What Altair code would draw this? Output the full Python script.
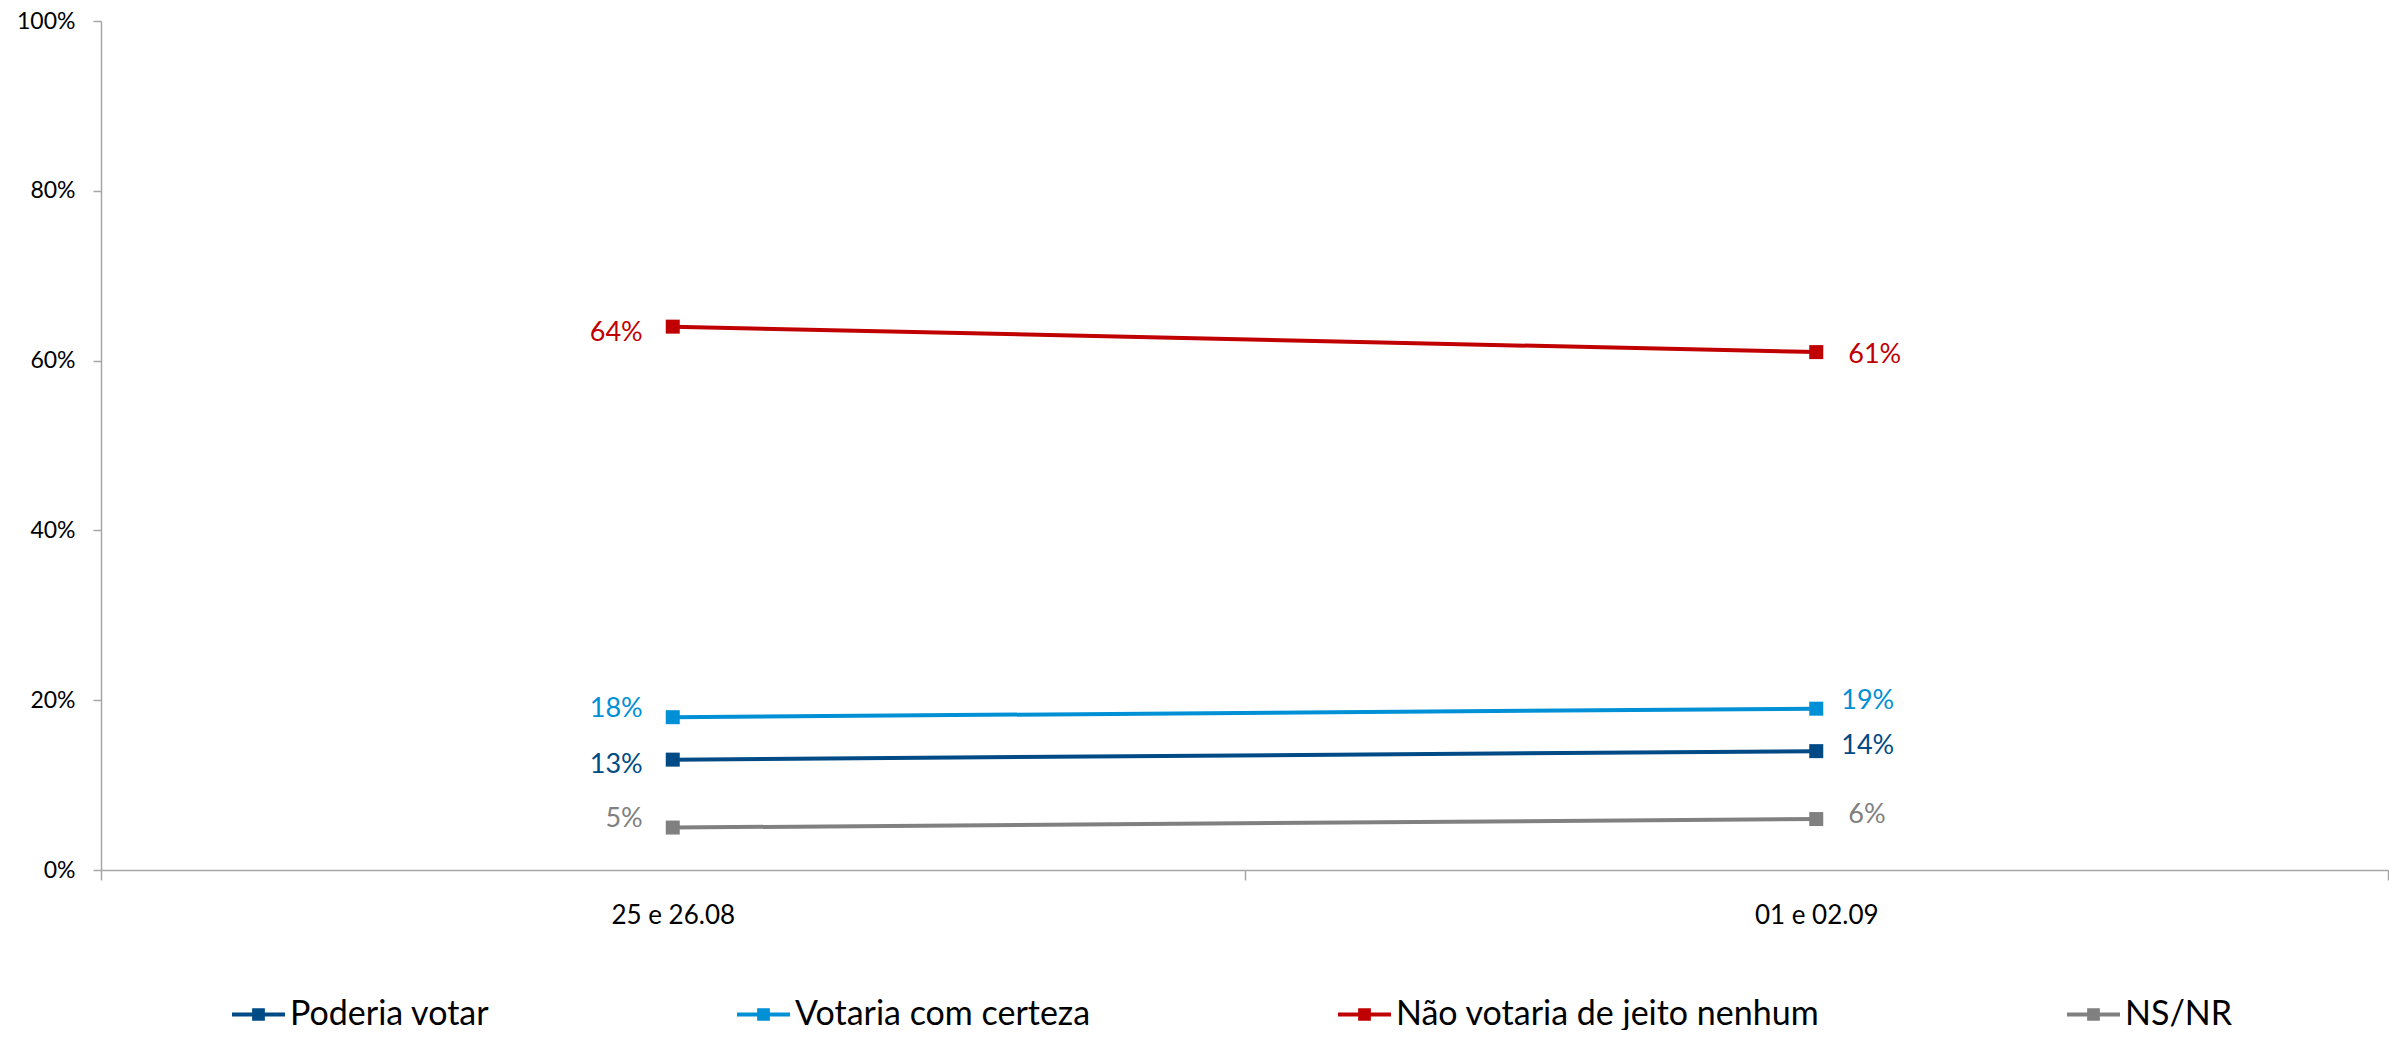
import altair as alt
import pandas as pd

dates = ["25 e 26.08", "01 e 02.09"]
series = ["Poderia votar", "Votaria com certeza", "Não votaria de jeito nenhum", "NS/NR"]
poderia_votar = [0.13, 0.14]
votaria_certeza = [0.18, 0.19]
nao_votaria = [0.64, 0.61]
ns_nr = [0.05, 0.06]
colors = ["#004A85", "#0090D6", "#C00000", "#808080"]

values = [poderia_votar, votaria_certeza, nao_votaria, ns_nr]
rows = []
for s, vals in zip(series, values):
    for d, v in zip(dates, vals):
        rows.append({"date": d, "series": s, "value": v, "label": f"{round(v*100)}%"})
df = pd.DataFrame(rows)

FONT = "Lato, Open Sans, sans-serif"

legend_path = "M-1,-0.075H1V0.075H-1Z M-0.24,-0.24H0.24V0.24H-0.24Z"

x_enc = alt.X("date:N", sort=dates,
              scale=alt.Scale(type="band", paddingInner=0, paddingOuter=0),
              axis=alt.Axis(title=None, labelAngle=0, tickBand="extent", tickSize=10,
                            labelPadding=22, labelFontSize=26, labelFont=FONT,
                            labelColor="#000000", grid=False))
y_enc = alt.Y("value:Q", scale=alt.Scale(domain=[0, 1]),
              axis=alt.Axis(title=None, values=[0, 0.2, 0.4, 0.6, 0.8, 1.0], format=".0%",
                            tickSize=8, labelPadding=18, labelFontSize=23,
                            labelFont=FONT, labelColor="#000000", grid=False))
color_enc = alt.Color("series:N", sort=series,
                      scale=alt.Scale(domain=series, range=colors),
                      legend=alt.Legend(title=None, orient="none", direction="horizontal",
                                        legendX=131, legendY=967, gridAlign="none",
                                        columns=4, columnPadding=247, labelLimit=0,
                                        symbolType=legend_path, symbolSize=2809,
                                        symbolStrokeWidth=0, labelOffset=5,
                                        labelFontSize=34, labelFont=FONT,
                                        labelColor="#000000"))

base = alt.Chart(df)
points = base.mark_point(shape="square", size=196, filled=True, opacity=1).encode(
    x=x_enc, y=y_enc, color=color_enc)
lines = base.mark_line(strokeWidth=4).encode(
    x=x_enc, y=y_enc, color=alt.Color("series:N", sort=series,
                                       scale=alt.Scale(domain=series, range=colors)),
    detail="series:N")

offsets = {
    (0, 0): ("right", -30, 5), (0, 1): ("left", 25, -5),
    (1, 0): ("right", -30, -8), (1, 1): ("left", 25, -8),
    (2, 0): ("right", -30, 6), (2, 1): ("left", 32, 3),
    (3, 0): ("right", -30, -9), (3, 1): ("left", 32, -4),
}
texts = []
for si, s in enumerate(series):
    for di, d in enumerate(dates):
        align, dx, dy = offsets[(si, di)]
        t = base.transform_filter(
            (alt.datum.series == s) & (alt.datum.date == d)
        ).mark_text(align=align, baseline="middle", dx=dx, dy=dy, fontSize=27,
                    font=FONT, color=colors[si]).encode(
            x=alt.X("date:N", sort=dates), y="value:Q", text="label:N")
        texts.append(t)

chart = alt.layer(points, lines, *texts).properties(
    width=2287, height=849,
    autosize=alt.AutoSizeParams(type="none"),
    padding={"left": 93, "top": 13, "right": 1, "bottom": 160},
).configure_view(stroke=None).configure_axis(
    domainColor="#A6A6A6", tickColor="#A6A6A6", domainWidth=1.5, tickWidth=1.5
)

chart.save("out.html", embed_options={"renderer": "svg", "actions": False})
